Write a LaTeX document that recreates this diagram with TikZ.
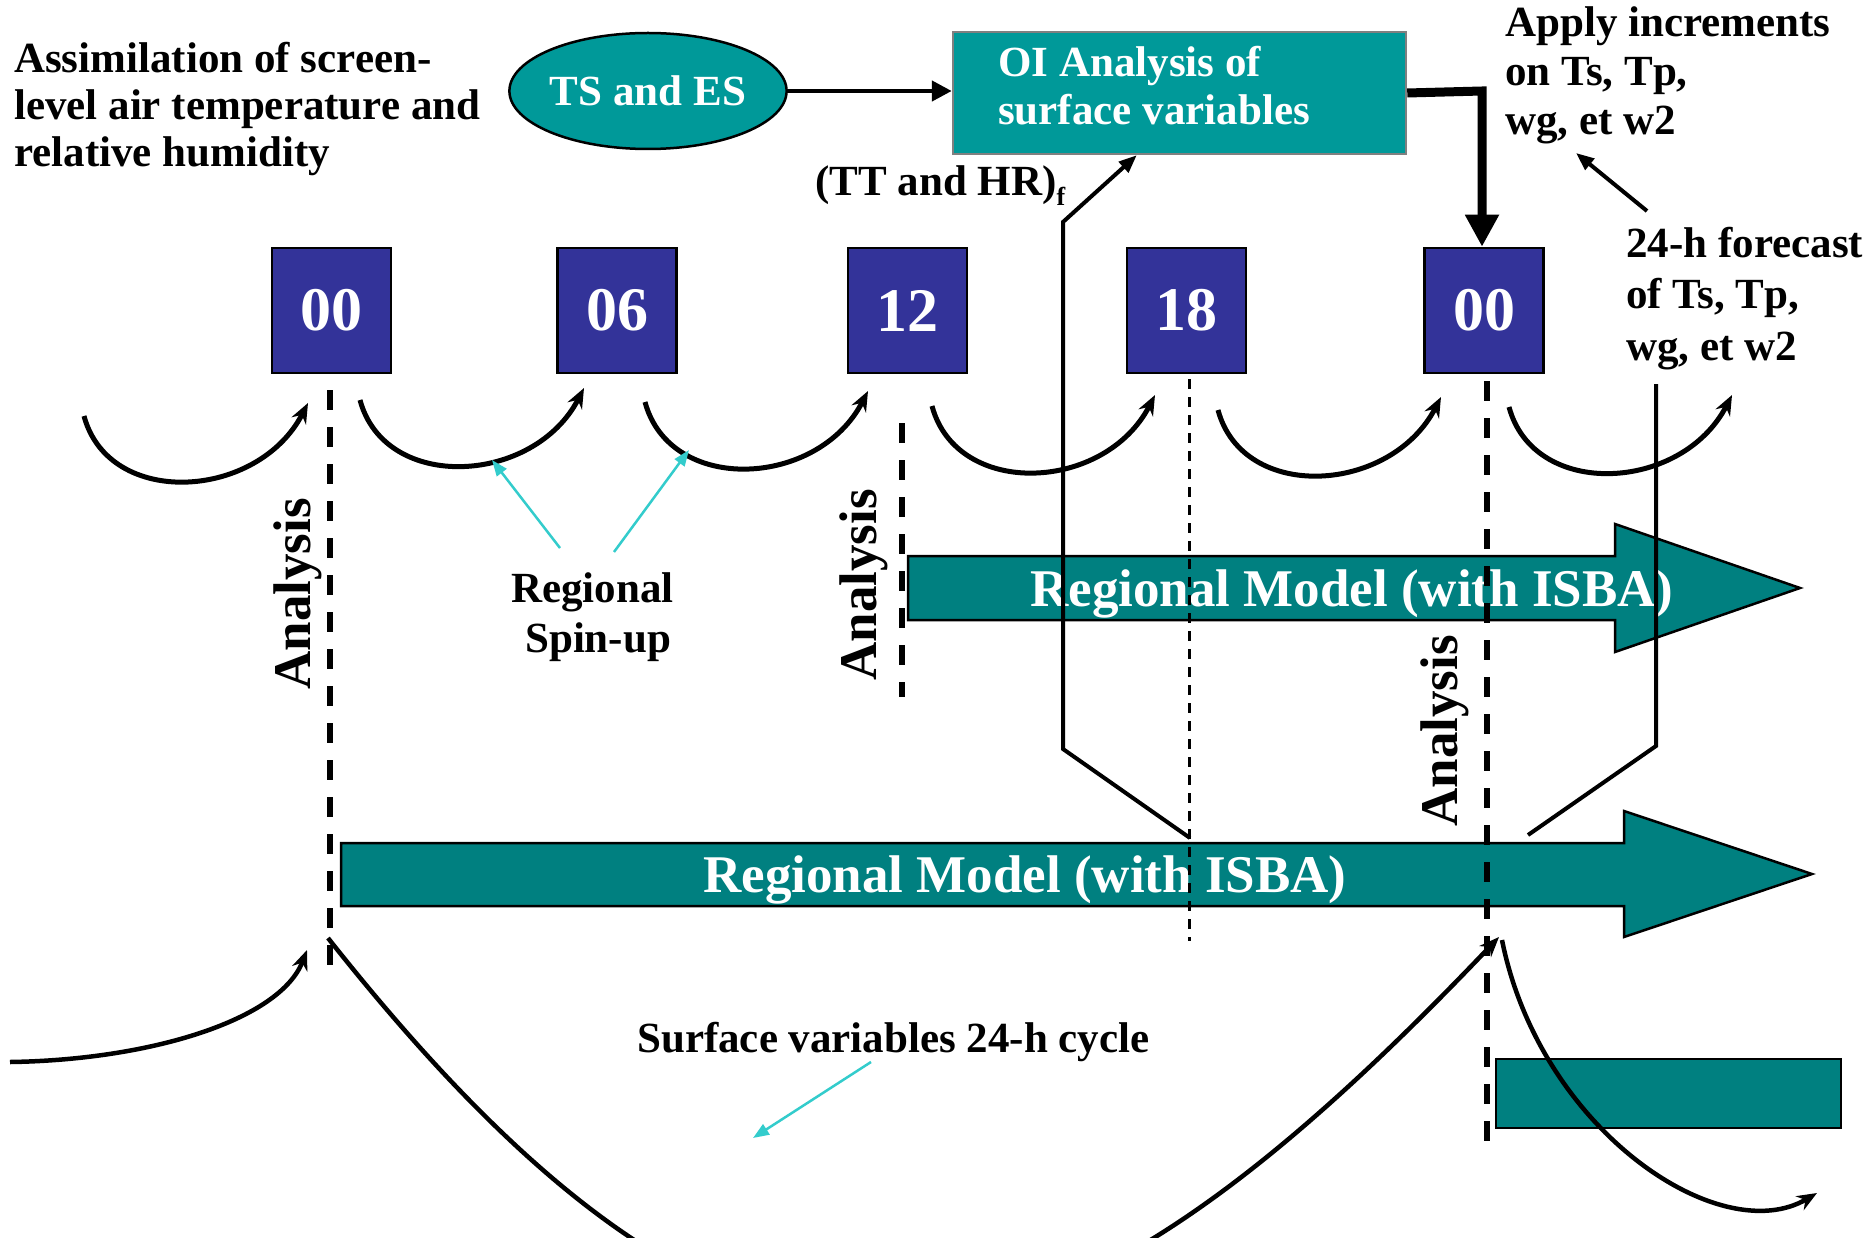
\documentclass[tikz,border=0pt]{standalone}
\usepackage{fontspec}
\setmainfont{Liberation Serif}
\usetikzlibrary{arrows.meta,shapes.geometric}
\definecolor{boxblue}{HTML}{333399}
\definecolor{tealA}{HTML}{008080}
\definecolor{tealB}{HTML}{009999}
\definecolor{cyanA}{HTML}{33CCCC}
\definecolor{greyB}{HTML}{808080}
\begin{document}
\begin{tikzpicture}[x=1pt,y=-1pt,
  txt/.style={font=\bfseries\fontsize{43}{47}\selectfont, inner sep=0pt, anchor=base west},
  bigtxt/.style={font=\bfseries\fontsize{53}{58}\selectfont, inner sep=0pt},
  hour/.style={draw=black, line width=2.5pt, fill=boxblue, minimum width=119pt, minimum height=125pt, text=white, font=\bfseries\fontsize{62}{66}\selectfont, inner sep=0pt},
  curv/.style={line width=5pt, -{Stealth[length=20pt,width=16pt]}},
  ana/.style={bigtxt, rotate=90, anchor=base},
  thickdash/.style={line width=5.5pt, dash pattern=on 20pt off 17pt},
  thindash/.style={line width=2.5pt, dash pattern=on 10pt off 8pt},
  conn/.style={line width=4pt},
  cyanarrow/.style={draw=cyanA, fill=cyanA, line width=2.5pt, -{Triangle[length=16pt,width=12pt]}},
  tealshape/.style={fill=tealA, draw=black, line width=2.5pt, line join=miter},
]
\useasboundingbox (0,0) rectangle (1868,1238);
\clip (0,0) rectangle (1868,1238);
\fill[white] (0,0) rectangle (1868,1238);

% title
\node[txt] (t1) at (14,73) {Assimilation of screen-};
\node[txt] (t2) at (14,120) {level air temperature and};
\node[txt] (t3) at (14,167) {relative humidity};

% TS and ES ellipse and OI box
\node[ellipse, draw=black, line width=2.5pt, fill=tealB, minimum width=259pt, minimum height=116pt, inner sep=0pt, text=white, font=\bfseries\fontsize{43}{47}\selectfont] (tses) at (648,91) {TS and ES};
\node[rectangle, draw=greyB, line width=2.5pt, fill=tealB, minimum width=453pt, minimum height=122pt, inner sep=0pt] (oi) at (1179.5,93) {};
\node[txt, text=white] (oi1) at (998,77) {OI Analysis of};
\node[txt, text=white] (oi2) at (998,125) {surface variables};
\draw[line width=4.5pt, -{Triangle[length=20pt,width=20pt]}] (tses.east) -- (tses.east -| oi.west);

% texts right
\node[txt] (ap1) at (1505,37) {Apply increments};
\node[txt] (ap2) at (1505,86) {on Ts, Tp,};
\node[txt] (ap3) at (1505,135) {wg, et w2};
\node[txt] (fc1) at (1626,258) {24-h forecast};
\node[txt] (fc2) at (1626,309) {of Ts, Tp,};
\node[txt] (fc3) at (1626,361) {wg, et w2};
\node[txt] (tthr) at (815,196) {(TT and HR)\raisebox{-10pt}{\fontsize{26}{26}\selectfont f}};

% hour boxes
\node[hour] (h0) at (331.5,310.5) {00};
\node[hour] (h6) at (617,310.5) {06};
\node[hour] (h12) at (907.5,310.5) {12};
\node[hour] (h18) at (1186.5,310.5) {18};
\node[hour] (h24) at (1484,310.5) {00};

% thick arrow from OI to 00
\coordinate (kink) at (1482,91);
\draw[line width=9pt, line join=miter, -{Triangle[length=32pt,width=32pt]}] (oi.east) -- (kink) -- (kink |- h24.north);

% 6-hour curved arrows
\foreach \i/\sx/\sy/\ex/\ey in {1/84/416/308/403, 2/360/400/584/388, 3/645/402/868/391, 4/932/406/1155/395, 5/1218/410/1441/397, 6/1509/407/1732/395} {
  \coordinate (cs\i) at (\sx,\sy);
  \coordinate (ce\i) at (\ex,\ey);
  \draw[curv] (cs\i) .. controls +(25,93) and +(-50,97) .. (ce\i);
}

% teal model arrows
\draw[tealshape] (908,556) -- (1615,556) -- (1615,524) -- (1800,588) -- (1615,652) -- (1615,620) -- (908,620) -- cycle;
\draw[tealshape] (341,843) -- (1624,843) -- (1624,811) -- (1812,874) -- (1624,937) -- (1624,906) -- (341,906) -- cycle;
\draw[tealshape] (1496,1059) rectangle (1841,1128);
\node[bigtxt, text=white, anchor=base west] (rm1) at (1030,606) {Regional Model (with ISBA)};
\node[bigtxt, text=white, anchor=base west] (rm2) at (703,892) {Regional Model (with ISBA)};

% Analysis labels
\node[ana] (an1) at (310,594) {Analysis};
\node[ana] (an2) at (876,585) {Analysis};
\node[ana] (an3) at (1457,731) {Analysis};

% dashed lines
\coordinate (d1t) at (330,390); \coordinate (d1b) at (330,977);
\coordinate (d2t) at (902,423); \coordinate (d2b) at (902,697);
\coordinate (d3t) at (1487,381); \coordinate (d3b) at (1487,1150);
\coordinate (d4t) at (1189.5,379); \coordinate (d4b) at (1189.5,941);
\draw[thickdash] (d1t) -- (d1b);
\draw[thickdash] (d2t) -- (d2b);
\draw[thickdash] (d3t) -- (d3b);
\draw[thindash] (d4t) -- (d4b);

% forecast extraction lines
\coordinate (tt1) at (1190,838);
\coordinate (tt2) at (1063,749);
\coordinate (tt3) at (1063,222);
\draw[conn, line join=miter, -{Triangle[length=18pt,width=14pt]}] (tt1) -- (tt2) -- (tt3) -- ([xshift=185pt]oi.south west);
\coordinate (r1) at (1528,835);
\coordinate (r2) at (1656,746);
\coordinate (r3) at (1656,384);
\draw[conn, line join=miter] (r1) -- (r2) -- (r3);
\coordinate (fa) at (1647,211);
\coordinate (fb) at (1576,153);
\draw[conn, -{Triangle[length=18pt,width=14pt]}] (fa) -- (fb);

% spin-up labels
\node[txt] (su1) at (511,602) {Regional};
\node[txt] (su2) at (525,652) {Spin-up};
\coordinate (sa1) at (560,548); \coordinate (sb1) at (492,460);
\coordinate (sa2) at (614,552); \coordinate (sb2) at (689,450);
\draw[cyanarrow] (sa1) -- (sb1);
\draw[cyanarrow] (sa2) -- (sb2);

% surface cycle
\node[txt] (sv) at (637,1052) {Surface variables 24-h cycle};
\coordinate (sc1) at (871,1062); \coordinate (sc2) at (753,1138);
\draw[cyanarrow] (sc1) -- (sc2);

\coordinate (ll1) at (10,1062); \coordinate (ll2) at (307,950);
\draw[curv, line width=4.5pt] (ll1) .. controls (150,1060) and (280,1020) .. (ll2);
\coordinate (u1) at (328,938); \coordinate (u2) at (1499,937);
\draw[curv, line width=4.5pt] (u1) .. controls (760,1484) and (1040,1420) .. (u2);
\coordinate (rr1) at (1502,940); \coordinate (rr2) at (1817,1193);
\draw[curv, line width=4.5pt] (rr1) .. controls (1540,1130) and (1720,1250) .. (rr2);
\end{tikzpicture}
\end{document}
